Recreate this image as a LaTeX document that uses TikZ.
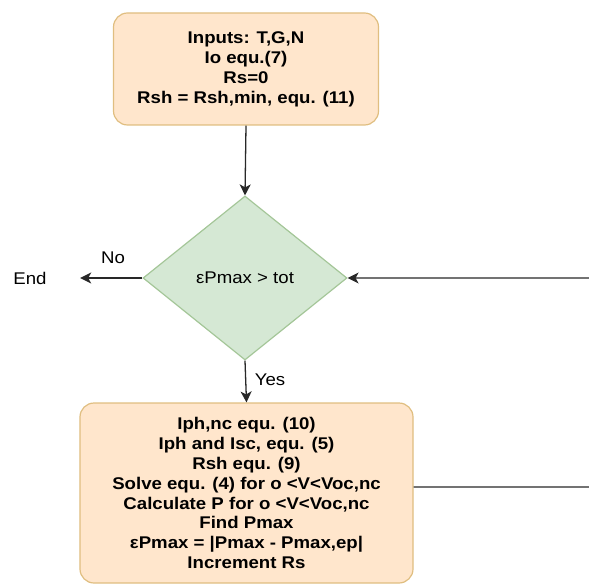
\documentclass[tikz,border=0pt]{standalone}
\usepackage{fontspec}
\setmainfont[FakeStretch=1.1]{Liberation Sans}
\usepackage{xcolor}
\usepackage{tikz}
\usetikzlibrary{arrows.meta,shapes.geometric}
\definecolor{procFill}{RGB}{255,230,204}
\definecolor{procLine}{RGB}{224,190,128}
\definecolor{testFill}{RGB}{213,232,212}
\definecolor{testLine}{RGB}{164,198,152}
\definecolor{flowGray}{RGB}{40,40,40}

\begin{document}
\begin{tikzpicture}[x=1bp, y=-1bp, font=\fontsize{17}{20}\selectfont,
    proc/.style={draw=procLine, fill=procFill, line width=1.2pt, rounded corners=14bp,
        align=center, inner sep=0pt, font=\fontsize{17}{20}\selectfont\bfseries},
    test/.style={draw=testLine, fill=testFill, line width=1.2pt, diamond, inner sep=0pt},
    flow/.style={flowGray, line width=1.3pt, -{Stealth[length=11bp,width=11bp,inset=3bp]}}]
    \useasboundingbox (0,0) rectangle (589,585);

    % boxes
    \node[proc, minimum width=265bp, minimum height=112bp] (init) at (246,69)
        {Inputs: T,G,N\\ Io equ.(7)\\ Rs=0\\ Rsh = Rsh,min, equ. (11)};
    \node[test, minimum width=204bp, minimum height=164bp] (check) at (245,278)
        {εPmax > tot};
    \node[proc, minimum width=333bp, minimum height=180bp] (loop) at (246.5,493)
        {Iph,nc equ. (10)\\ Iph and Isc, equ. (5)\\ Rsh equ. (9)\\
         Solve equ. (4) for o <V<Voc,nc\\ Calculate P for o <V<Voc,nc\\
         Find Pmax\\ εPmax = |Pmax - Pmax,ep|\\ Increment Rs};
    \node[minimum width=100bp, inner sep=0pt] (done) at (30,278) {End};

    % return path on the right
    \coordinate (back0) at ([yshift=6bp]loop.east);
    \coordinate (back1) at (590,487);
    \coordinate (back2) at (590,278);

    % connectors
    \draw[flow] (init.south) -- (check.north);
    \draw[flow] (check.west) -- (done.east);
    \draw[flow] (check.south) -- (loop.north);
    \draw[flow] (back0) -- (back1) -- (back2) -- (check.east);

    % labels
    \node at (113,258) {No};
    \node at (270,380) {Yes};
\end{tikzpicture}
\end{document}
